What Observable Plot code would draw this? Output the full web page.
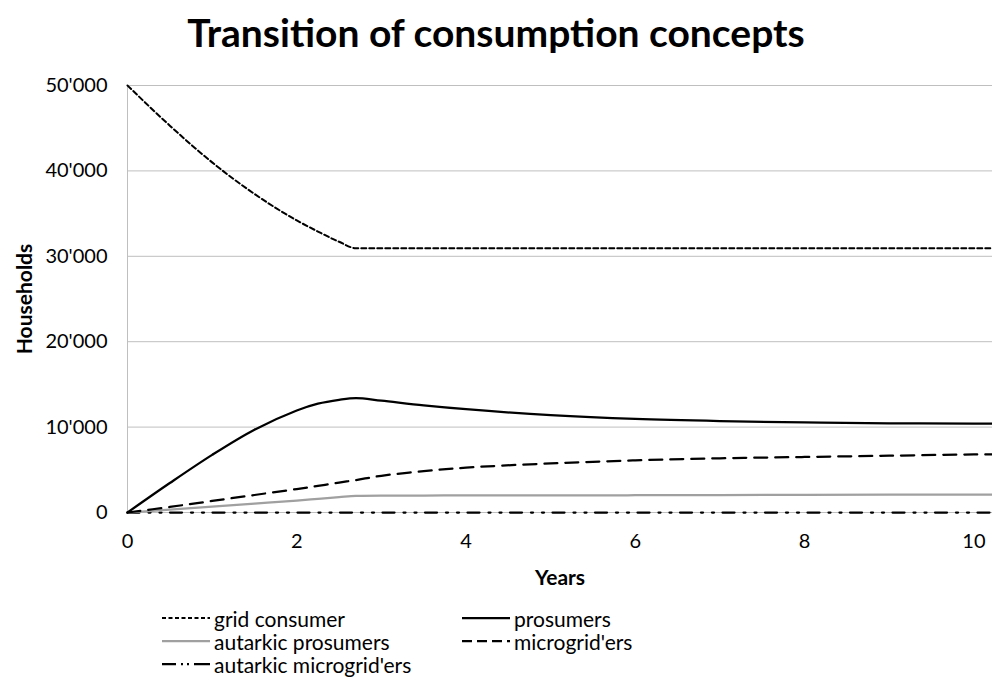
<!DOCTYPE html>
<html>
<head>
<meta charset="utf-8">
<script src="https://cdn.jsdelivr.net/npm/d3@7"></script>
<script src="https://cdn.jsdelivr.net/npm/@observablehq/plot@0.6"></script>
<style>
  body { margin: 0; background: #fff; width: 992px; overflow: hidden; font-family: Lato, "Noto Sans", sans-serif; }
  #title { height: 62px; line-height: 64px; text-align: center; font-weight: bold; font-size: 39px; color: #000; }
  #legend { position: relative; height: 79px; font-size: 21px; color: #000; }
  .item { position: absolute; display: flex; align-items: center; height: 22px; line-height: 21px; }
  .item span { line-height: 21px; display: inline-block; height: 21px; }
  .item svg { margin-right: 4px; }
</style>
</head>
<body>
<div id="title">Transition of consumption concepts</div>
<div id="chart"></div>
<div id="legend"></div>
<script>
// ---- data ----
const years = [0, 0.5, 1, 1.5, 2, 2.25, 2.5, 2.7, 3, 3.5, 4, 5, 6, 7, 8, 9, 10, 10.22];
const gridConsumer = [50000, 45300, 41000, 37300, 34200, 32900, 31700, 30950, 30950, 30950, 30950, 30950, 30950, 30950, 30950, 30950, 30950, 30950];
const prosumers = [0, 3450, 6750, 9700, 11950, 12750, 13200, 13400, 13100, 12550, 12100, 11400, 10950, 10700, 10550, 10450, 10400, 10400];
const autarkicProsumers = [0, 350, 700, 1050, 1400, 1600, 1800, 1950, 1980, 1990, 2000, 2000, 2020, 2040, 2060, 2080, 2100, 2100];
const microgriders = [0, 650, 1350, 2050, 2750, 3120, 3500, 3800, 4300, 4850, 5250, 5750, 6100, 6350, 6500, 6650, 6800, 6800];
const autarkicMicrogriders = [0, 0, 0, 0, 0, 0, 0, 0, 0, 0, 0, 0, 0, 0, 0, 0, 0, 0];
const seriesNames = ["grid consumer", "prosumers", "autarkic prosumers", "microgrid'ers", "autarkic microgrid'ers"];
const xTicks = [0, 2, 4, 6, 8, 10];
const yTicks = [0, 10000, 20000, 30000, 40000, 50000];
const yTickLabels = ["0", "10'000", "20'000", "30'000", "40'000", "50'000"];

// ---- styles ----
const styles = {
  "grid consumer": {stroke: "#000", strokeWidth: 2, dash: "5,3", legendDash: "4,2.5", curve: "monotone-x"},
  "prosumers": {stroke: "#000", strokeWidth: 2.25, dash: null, legendDash: null, curve: "catmull-rom"},
  "autarkic prosumers": {stroke: "#a0a0a0", strokeWidth: 2.25, dash: null, legendDash: null, curve: "monotone-x"},
  "microgrid'ers": {stroke: "#000", strokeWidth: 2.25, dash: "13,8", legendDash: "10,5", curve: "catmull-rom"},
  "autarkic microgrid'ers": {stroke: "#000", strokeWidth: 2.25, dash: "12,9,2,9,2,8.5", legendDash: "14,5,2,4,2,5,16", curve: "linear"}
};
const valuesBySeries = [gridConsumer, prosumers, autarkicProsumers, microgriders, autarkicMicrogriders];
const rows = seriesNames.flatMap((name, s) => years.map((yr, i) => ({series: name, year: yr, value: valuesBySeries[s][i]})));

const font = "Lato, 'Noto Sans', sans-serif";
const drawOrder = ["autarkic microgrid'ers", "autarkic prosumers", "microgrid'ers", "prosumers", "grid consumer"];

const chart = Plot.plot({
  width: 992,
  height: 540,
  marginLeft: 127,
  marginRight: 0,
  marginTop: 23,
  marginBottom: 90,
  style: {fontFamily: font, fontSize: "20px", color: "#000", background: "#fff"},
  x: {domain: [0, 10.22]},
  y: {domain: [0, 50000]},
  marks: [
    Plot.gridY(yTicks, {stroke: "#bfbfbf", strokeOpacity: 1, strokeWidth: 1}),
    Plot.ruleX([0], {stroke: "#bfbfbf", strokeWidth: 1}),
    Plot.axisX(xTicks, {tickSize: 0, tickPadding: 21, fontSize: 20, label: "Years", labelAnchor: "center", labelArrow: "none", labelOffset: 72}),
    Plot.axisY(yTicks, {tickSize: 0, tickPadding: 20, fontSize: 20, tickFormat: (d) => yTickLabels[yTicks.indexOf(d)], label: "Households", labelAnchor: "center", labelArrow: "none", labelOffset: 110}),
    ...drawOrder.map(name => Plot.line(rows.filter(r => r.series === name), {
      x: "year", y: "value", curve: styles[name].curve,
      stroke: styles[name].stroke, strokeWidth: styles[name].strokeWidth,
      strokeDasharray: styles[name].dash
    }))
  ]
});
// bold axis labels
chart.querySelectorAll("g[aria-label='x-axis label'] text, g[aria-label='y-axis label'] text").forEach(t => {
  t.setAttribute("font-weight", "bold"); t.setAttribute("font-size", "21");
});
document.getElementById("chart").appendChild(chart);

// ---- legend ----
const legend = document.getElementById("legend");
const positions = [[162, 5], [462, 5], [162, 28], [462, 28], [162, 51]];
seriesNames.forEach((name, i) => {
  const st = styles[name];
  const div = document.createElement("div");
  div.className = "item";
  div.style.left = positions[i][0] + "px";
  div.style.top = positions[i][1] + "px";
  div.innerHTML = `<svg width="48" height="10"><line x1="0" y1="5" x2="48" y2="5" stroke="${st.stroke}" stroke-width="${st.strokeWidth}" ${st.legendDash ? `stroke-dasharray="${st.legendDash}"` : ""}/></svg><span>${name}</span>`;
  legend.appendChild(div);
});
</script>
</body>
</html>
